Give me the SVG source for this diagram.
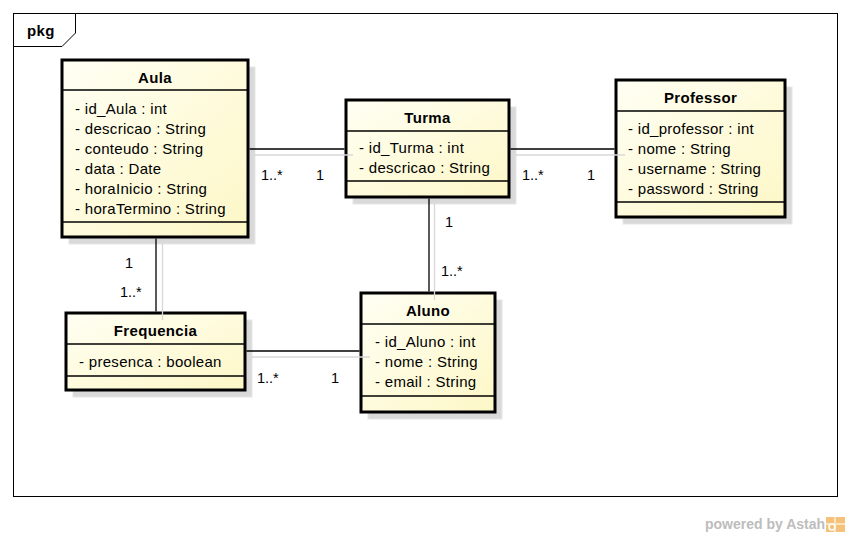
<svg xmlns="http://www.w3.org/2000/svg" width="850" height="537" viewBox="0 0 850 537">
<defs>
<linearGradient id="fillg" x1="0" y1="0" x2="1" y2="1">
<stop offset="0" stop-color="#FFFFF4"/>
<stop offset="1" stop-color="#FDF7C6"/>
</linearGradient>
</defs>
<style>
.shadow{fill:#D9D9D9;stroke:#E6E6E6;stroke-width:1}
.box{fill:url(#fillg);stroke:#000;stroke-width:3}
.sep{stroke:#000;stroke-width:1.3;fill:none}
.title{font-family:"Liberation Sans",Arial,sans-serif;font-size:15px;font-weight:bold;text-anchor:middle;fill:#000;letter-spacing:0.35px}
.attr{font-family:"Liberation Sans",Arial,sans-serif;font-size:15px;fill:#000;letter-spacing:0.3px}
.lbl{font-family:"Liberation Sans",Arial,sans-serif;font-size:14.5px;fill:#000}
.conn{stroke:#000;stroke-width:1.3;fill:none}
.cshadow{stroke:#D8D8D8;stroke-width:1.3;fill:none}
</style>
<rect width="850" height="537" fill="#fff"/>
<g id="frame">
<rect x="13.5" y="13.5" width="824" height="483" fill="none" stroke="#000" stroke-width="1"/>
<polyline points="13.5,46.5 62,46.5 75.5,33 75.5,13.5" fill="none" stroke="#000" stroke-width="1"/>
<text x="27" y="36" class="title" style="text-anchor:start">pkg</text>
</g>
<g id="Aula">
<rect class="shadow" x="69" y="67" width="186" height="177"/>
<rect class="box" x="62" y="60" width="186" height="177"/>
<line class="sep" x1="62" y1="90" x2="248" y2="90"/>
<line class="sep" x1="62" y1="222" x2="248" y2="222"/>
<text class="title" x="155" y="83">Aula</text>
<text class="attr" x="75" y="114">- id_Aula : int</text>
<text class="attr" x="75" y="134">- descricao : String</text>
<text class="attr" x="75" y="154">- conteudo : String</text>
<text class="attr" x="75" y="174">- data : Date</text>
<text class="attr" x="75" y="194">- horaInicio : String</text>
<text class="attr" x="75" y="214">- horaTermino : String</text>
</g>
<g id="Turma">
<rect class="shadow" x="353" y="107" width="163" height="97"/>
<rect class="box" x="346" y="100" width="163" height="97"/>
<line class="sep" x1="346" y1="131" x2="509" y2="131"/>
<line class="sep" x1="346" y1="181" x2="509" y2="181"/>
<text class="title" x="427.5" y="123">Turma</text>
<text class="attr" x="359" y="153">- id_Turma : int</text>
<text class="attr" x="359" y="173">- descricao : String</text>
</g>
<g id="Professor">
<rect class="shadow" x="623" y="87" width="169" height="137"/>
<rect class="box" x="616" y="80" width="169" height="137"/>
<line class="sep" x1="616" y1="111" x2="785" y2="111"/>
<line class="sep" x1="616" y1="202" x2="785" y2="202"/>
<text class="title" x="700.5" y="103">Professor</text>
<text class="attr" x="628" y="134">- id_professor : int</text>
<text class="attr" x="628" y="154">- nome : String</text>
<text class="attr" x="628" y="174">- username : String</text>
<text class="attr" x="628" y="194">- password : String</text>
</g>
<g id="Frequencia">
<rect class="shadow" x="73" y="320" width="179" height="77"/>
<rect class="box" x="66" y="313" width="179" height="77"/>
<line class="sep" x1="66" y1="344" x2="245" y2="344"/>
<line class="sep" x1="66" y1="376" x2="245" y2="376"/>
<text class="title" x="155.5" y="336">Frequencia</text>
<text class="attr" x="79" y="367">- presenca : boolean</text>
</g>
<g id="Aluno">
<rect class="shadow" x="368" y="300" width="134" height="119"/>
<rect class="box" x="361" y="293" width="134" height="119"/>
<line class="sep" x1="361" y1="324" x2="495" y2="324"/>
<line class="sep" x1="361" y1="396" x2="495" y2="396"/>
<text class="title" x="428" y="316">Aluno</text>
<text class="attr" x="375" y="347">- id_Aluno : int</text>
<text class="attr" x="375" y="367">- nome : String</text>
<text class="attr" x="375" y="387">- email : String</text>
</g>
<g id="connectors">
<line class="cshadow" x1="253" y1="155" x2="353" y2="155"/>
<line class="cshadow" x1="513" y1="155" x2="625" y2="155"/>
<line class="cshadow" x1="162.5" y1="243" x2="162.5" y2="320"/>
<line class="cshadow" x1="434.5" y1="203" x2="434.5" y2="300"/>
<line class="cshadow" x1="250" y1="357" x2="370" y2="357"/>
<line class="conn" x1="249.5" y1="149" x2="344.5" y2="149"/>
<line class="conn" x1="510.5" y1="149" x2="614.5" y2="149"/>
<line class="conn" x1="156" y1="238.5" x2="156" y2="311.5"/>
<line class="conn" x1="429" y1="198.5" x2="429" y2="291.5"/>
<line class="conn" x1="246.5" y1="351" x2="359.5" y2="351"/>
</g>
<g id="labels">
<text class="lbl" x="261" y="180">1..*</text>
<text class="lbl" x="316" y="180">1</text>
<text class="lbl" x="522" y="180">1..*</text>
<text class="lbl" x="587" y="180">1</text>
<text class="lbl" x="445" y="227">1</text>
<text class="lbl" x="441" y="276">1..*</text>
<text class="lbl" x="125" y="268">1</text>
<text class="lbl" x="120" y="297">1..*</text>
<text class="lbl" x="257" y="383">1..*</text>
<text class="lbl" x="331" y="383">1</text>
</g>
<g id="watermark">
<text x="705" y="529" style="font-family:'Liberation Sans',Arial,sans-serif;font-size:14px;font-weight:bold;fill:#BDBDBD">powered by Astah</text>
<rect x="826" y="517" width="19" height="15" fill="#F6C27A"/>
<path d="M826,524 L845,524 M835,517 L835,532" stroke="#FBE3BE" stroke-width="2"/>
<circle cx="832" cy="527" r="3" fill="none" stroke="#fff" stroke-width="1.5"/>
</g>
</svg>
